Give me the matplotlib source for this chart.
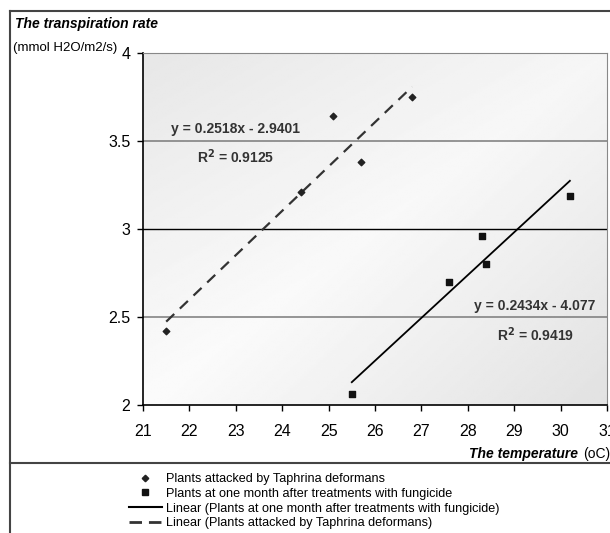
import numpy as np
import matplotlib.pyplot as plt
from matplotlib.lines import Line2D

plt.rcParams['font.family'] = ['Liberation Sans', 'DejaVu Sans']

# Plants attacked by Taphrina deformans
taph_x = [21.5, 24.4, 25.1, 25.7, 26.8]
taph_y = [2.42, 3.21, 3.64, 3.38, 3.75]
# Plants at one month after treatments with fungicide
fung_x = [25.5, 27.6, 28.3, 28.4, 30.2]
fung_y = [2.06, 2.70, 2.96, 2.80, 3.19]

# trendline coefficients (slope, intercept) from the chart labels
taph_fit = [0.2518, -2.9401]
fung_fit = [0.2434, -4.077]

x_ticks = list(range(21, 32))
y_ticks = [2, 2.5, 3, 3.5, 4]
y_ticklabels = ['2', '2.5', '3', '3.5', '4']

W, H = 610, 533
fig = plt.figure(figsize=(W / 100, H / 100), dpi=100)
ax = fig.add_axes([143 / W, 1 - 405 / H, 464 / W, 352 / H])

# soft gray gradient background, white along the diagonal
grad = np.linspace(0, 1, 200)
gx, gy = np.meshgrid(grad, grad)
bg = 0.985 - 0.08 * np.abs(gx - gy) - 0.02 * gx
ax.imshow(bg, extent=[21, 31, 2, 4], aspect='auto', cmap='gray', vmin=0, vmax=1,
          origin='lower', zorder=0)

for yv in [2.5, 3.5]:
    ax.axhline(yv, color='#7a7a7a', lw=1.1, zorder=1)
ax.axhline(3, color='black', lw=1, zorder=1)

ax.scatter(taph_x, taph_y, marker='D', s=11, color='#222222', zorder=3)
ax.scatter(fung_x, fung_y, marker='s', s=22, color='#111111', zorder=3)

tx = np.array([min(taph_x), max(taph_x)])
ax.plot(tx, taph_fit[0] * tx + taph_fit[1], color='#333333', lw=1.6,
        dashes=(5, 3.5), zorder=2)
fx = np.array([min(fung_x), max(fung_x)])
ax.plot(fx, fung_fit[0] * fx + fung_fit[1], color='black', lw=1.3, zorder=2)

eq_kw = dict(fontsize=10, fontweight='bold', color='#333333', ha='center', va='center')
ax.text(23.0, 3.57, 'y = 0.2518x - 2.9401', **eq_kw)
ax.text(23.0, 3.41, 'R$^\\mathbf{2}$ = 0.9125', **eq_kw)
ax.text(29.45, 2.56, 'y = 0.2434x - 4.077', **eq_kw)
ax.text(29.45, 2.40, 'R$^\\mathbf{2}$ = 0.9419', **eq_kw)

ax.set_xlim(21, 31)
ax.set_ylim(2, 4)
ax.set_xticks(x_ticks)
ax.set_yticks(y_ticks)
ax.set_yticklabels(y_ticklabels)
ax.tick_params(direction='out', length=4, width=1, labelsize=11.5, colors='black')
ax.tick_params(axis='x', pad=10)
ax.tick_params(axis='y', pad=5)
ax.spines['left'].set_linewidth(1.2)
ax.spines['bottom'].set_linewidth(1.2)
ax.spines['top'].set_color('#888888')
ax.spines['right'].set_color('#888888')

fig.text(15 / W, 1 - 24 / H, 'The transpiration rate', fontsize=10,
         fontweight='bold', fontstyle='italic', va='center')
fig.text(13 / W, 1 - 48 / H, '(mmol H2O/m2/s)', fontsize=9.5, va='center')
fig.text(578 / W, 1 - 454 / H, 'The temperature', fontsize=10,
         fontweight='bold', fontstyle='italic', va='center', ha='right')
fig.text(583 / W, 1 - 454 / H, '(oC)', fontsize=10, va='center', ha='left')

# outer frame
frame_c = '#444444'
fig.add_artist(Line2D([10 / W, 10 / W], [0, 1 - 11 / H], color=frame_c, lw=1.5))
fig.add_artist(Line2D([10 / W, 1], [1 - 11 / H, 1 - 11 / H], color=frame_c, lw=1.5))
fig.add_artist(Line2D([10 / W, 1], [1 - 463 / H, 1 - 463 / H], color=frame_c, lw=1.5))

handles = [
    Line2D([], [], marker='D', markersize=3.3, color='#222222', lw=0),
    Line2D([], [], marker='s', markersize=4.5, color='#111111', lw=0),
    Line2D([], [], color='black', lw=1.5),
    Line2D([], [], color='#333333', lw=2, dashes=(4.5, 2.5)),
]
labels = [
    'Plants attacked by Taphrina deformans',
    'Plants at one month after treatments with fungicide',
    'Linear (Plants at one month after treatments with fungicide)',
    'Linear (Plants attacked by Taphrina deformans)',
]
fig.legend(handles, labels, loc='upper left', bbox_to_anchor=(129 / W, 1 - 473 / H),
           frameon=False, fontsize=9.1, labelspacing=0.22, handlelength=2.6,
           handletextpad=0.3, borderpad=0, borderaxespad=0)

fig.savefig('out.png', dpi=100)
